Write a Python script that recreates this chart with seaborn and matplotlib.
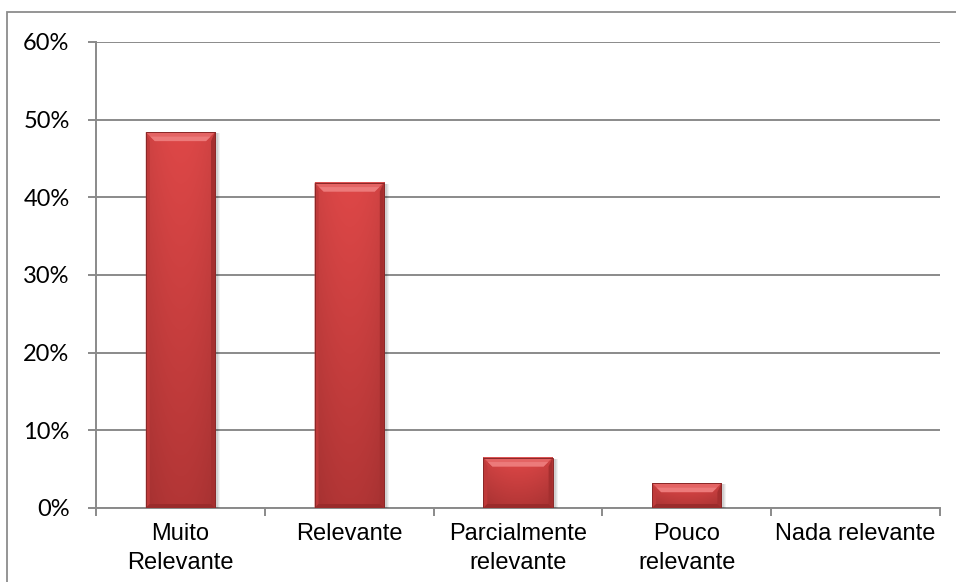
import numpy as np
import pandas as pd
import matplotlib
matplotlib.use("Agg")
import matplotlib.pyplot as plt
import seaborn as sns
from matplotlib.ticker import PercentFormatter, MultipleLocator
from matplotlib.patches import Polygon, Rectangle

# Survey answers and their share of respondents
categories = ["Muito\nRelevante", "Relevante", "Parcialmente\nrelevante",
              "Pouco\nrelevante", "Nada relevante"]
shares = [0.484, 0.419, 0.065, 0.032, 0.0]

sns.set_theme(style="white")
plt.rcParams["font.family"] = ["Liberation Sans", "DejaVu Sans"]

W, H = 956, 582
fig = plt.figure(figsize=(W / 100, H / 100), dpi=100)
fig.patch.set_facecolor("white")

# plot area in pixels
L, R, T, B = 96, 940, 42, 508
ax = fig.add_axes([L / W, 1 - B / H, (R - L) / W, (B - T) / H])
ax.set_facecolor("white")

df = pd.DataFrame({"categoria": categories, "percentual": shares})
sns.barplot(data=df, x="categoria", y="percentual", color="#d64141",
            saturation=1, width=0.41, ax=ax, zorder=3, linewidth=0)

ax.set_xlim(-0.5, 4.5)
ax.set_ylim(0, 0.6)
ax.set_xlabel("")
ax.set_ylabel("")

grid_c = "#8a8a8a"
ax.yaxis.set_major_locator(MultipleLocator(0.1))
ax.yaxis.set_major_formatter(PercentFormatter(1.0, decimals=0))
ax.grid(axis="y", color=grid_c, lw=1.4, zorder=0)
ax.grid(axis="x", visible=False)
ax.set_axisbelow(True)

for s in ("top", "right"):
    ax.spines[s].set_visible(False)
for s in ("left", "bottom"):
    ax.spines[s].set_color(grid_c)
    ax.spines[s].set_linewidth(1.4)

ax.set_xticks(range(len(categories)))
ax.set_xticklabels(categories, fontsize=17, color="black", linespacing=1.4,
                   family=["Liberation Sans", "DejaVu Sans"])
ax.set_xticks(np.arange(-0.5, len(categories), 1.0), minor=True)
ax.tick_params(axis="x", which="major", length=0, pad=11)
ax.tick_params(axis="x", which="minor", length=6, width=1.4, color=grid_c,
               direction="out", bottom=True)
ax.tick_params(axis="y", length=6, width=1.4, color=grid_c, direction="out",
               left=True, pad=13, labelsize=17, labelcolor="black")
for lab in ax.get_yticklabels():
    lab.set_family(["Lato", "DejaVu Sans"])

# pixel -> data scale factors for the bevel geometry
px_x = 5.0 / (R - L)
px_y = 0.6 / (B - T)

# shaded body and bevelled edges for each bar
ny, nx = 120, 60
u = np.linspace(-1, 1, nx)
v = np.linspace(0, 1, ny)[:, None]
hprof = 1 - 0.08 * np.abs(u) ** 2
top_c = np.array([0.87, 0.28, 0.28])
bot_c = np.array([0.70, 0.21, 0.21])
for p in list(ax.patches):
    x0, y0 = p.get_x(), p.get_y()
    w, h = p.get_width(), p.get_height()
    if h <= 0:
        continue
    xl, xr, yt, yb = x0, x0 + w, y0 + h, y0

    # soft drop shadow to the right and below
    for k, a in ((4, 0.05), (3, 0.06), (2, 0.08)):
        ax.add_patch(Rectangle((xl + 1 * px_x, yb), w + k * px_x, h - 1 * px_y,
                               fc="black", ec="none", alpha=a, zorder=2.9))

    col = top_c[None, None, :] * (1 - v[..., None]) + bot_c[None, None, :] * v[..., None]
    col = col * hprof[None, :, None]
    ax.imshow(np.clip(col, 0, 1), extent=[xl, xr, yb, yt], aspect="auto",
              origin="upper", zorder=3.2, interpolation="bilinear")

    bt = min(9 * px_y, h * 0.4)
    bb = min(4 * px_y, h * 0.2)
    bs = 4 * px_x
    bxt = 9 * px_x
    # top bevel: light band with mitred corners
    ax.add_patch(Polygon([(xl, yt), (xr, yt), (xr - bxt, yt - bt), (xl + bxt, yt - bt)],
                         closed=True, fc="#e46464", ec="none", zorder=3.4))
    ax.add_patch(Polygon([(xl + 0.5 * bxt, yt - 0.5 * bt), (xr - 0.5 * bxt, yt - 0.5 * bt),
                          (xr - bxt, yt - bt), (xl + bxt, yt - bt)],
                         closed=True, fc="#ec7a7a", ec="none", zorder=3.45))
    # side bevels
    ax.add_patch(Polygon([(xl, yt), (xl + bs, yt - bt), (xl + bs, yb + bb), (xl, yb)],
                         closed=True, fc="#bf3a3a", ec="none", zorder=3.3))
    ax.add_patch(Polygon([(xr, yt), (xr - bs, yt - bt), (xr - bs, yb + bb), (xr, yb)],
                         closed=True, fc="#a52f2f", ec="none", zorder=3.3))
    # bottom bevel
    ax.add_patch(Polygon([(xl, yb), (xr, yb), (xr - bs, yb + bb), (xl + bs, yb + bb)],
                         closed=True, fc="#9a2b2b", ec="none", zorder=3.35))
    ax.add_patch(Rectangle((x0, y0), w, h, fc="none", ec="#8a2828", lw=0.7, zorder=3.5))
    p.set_visible(False)

ax.set_xlim(-0.5, 4.5)
ax.set_ylim(0, 0.6)

# outer chart frame
fig.add_artist(Rectangle((7 / W, -0.5), 2, 1.5 - 12 / H, transform=fig.transFigure,
                         fill=False, ec="#8c8c8c", lw=1.3))

fig.savefig("out.png", dpi=100)
